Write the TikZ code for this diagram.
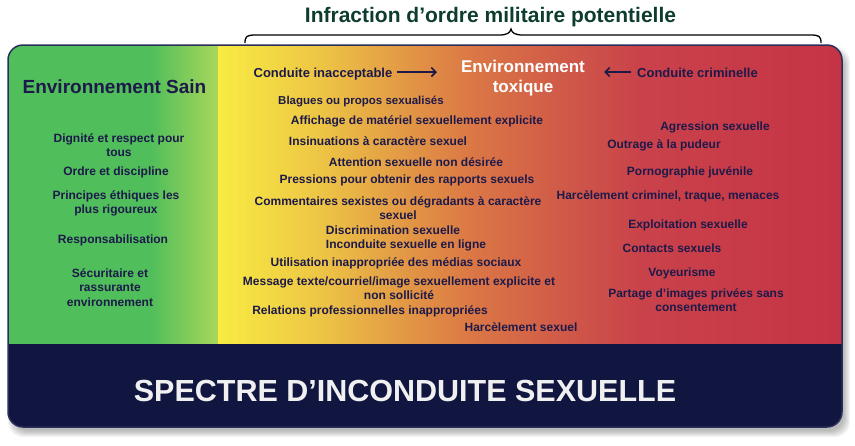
\documentclass[tikz,border=0pt]{standalone}
\usepackage{fontspec}
\setmainfont{Liberation Sans}
\usetikzlibrary{arrows.meta}
\definecolor{gA}{HTML}{4FBE5B}
\definecolor{gB}{HTML}{AAD75A}
\definecolor{yA}{HTML}{F8EB42}
\definecolor{yB}{HTML}{EDC545}
\definecolor{oA}{HTML}{E39A45}
\definecolor{oB}{HTML}{DB7845}
\definecolor{rA}{HTML}{D05A48}
\definecolor{rB}{HTML}{C9424A}
\definecolor{rC}{HTML}{C53345}
\definecolor{navybg}{HTML}{111641}
\definecolor{navytxt}{HTML}{1D1A4A}
\definecolor{borderc}{HTML}{2A2F5A}
\definecolor{titlegreen}{HTML}{0E3D30}
\begin{document}
\begin{tikzpicture}[x=1pt,y=-1pt,
  item/.style={anchor=base,inner sep=0pt,align=center,text=navytxt,
     font=\bfseries\fontsize{12}{14.5}\selectfont},
  smallitem/.style={item,font=\bfseries\fontsize{11.5}{14}\selectfont},
  head/.style={anchor=base,inner sep=0pt,align=center,text=navytxt,
     font=\bfseries\fontsize{13}{16}\selectfont},
  arr/.style={-{Straight Barb[length=4.5pt,width=9pt,line width=1.6pt]},line width=1.6pt,navytxt}]
\useasboundingbox (0,0) rectangle (855,445);
% shadow
\foreach \i in {0,1,2,3,4,5,6}{
  \fill[black,opacity=0.045,rounded corners=15pt]
    (8+6-\i,45+8-\i) rectangle (842+2+\i,427+4+\i);
}
% box
\begin{scope}
\clip[rounded corners=15pt] (8,45) rectangle (842,427);
\fill[gA] (0,40) rectangle (151,345);
\shade[left color=gA,right color=gB] (150,40) rectangle (219,345);
\shade[left color=yA,right color=yB] (218.5,40) rectangle (321,345);
\shade[left color=yB,right color=oA] (320,40) rectangle (401,345);
\shade[left color=oA,right color=oB] (400,40) rectangle (471,345);
\shade[left color=oB,right color=rA] (470,40) rectangle (561,345);
\shade[left color=rA,right color=rB] (560,40) rectangle (641,345);
\shade[left color=rB,right color=rC] (640,40) rectangle (850,345);
\fill[navybg] (0,344) rectangle (850,430);
\end{scope}
\draw[borderc,line width=1.5pt,rounded corners=15pt] (8,45) rectangle (842,427);
% brace
\draw[black,line width=1.3pt] (245,43) .. controls (245,36) and (247,35) .. (256,35)
  -- (499,35) .. controls (507,35) and (510,33) .. (511,29)
  .. controls (512,33) and (515,35) .. (523,35) -- (810,35)
  .. controls (819,35) and (821,36) .. (821,43);
\node[anchor=base,inner sep=0pt,text=titlegreen,font=\bfseries\fontsize{21}{24}\selectfont] (title) at (490.5,22) {Infraction d’ordre militaire potentielle};
% headers
\node[anchor=base,inner sep=0pt,text=navytxt,font=\bfseries\fontsize{19}{22}\selectfont] (sain) at (114.5,93) {Environnement Sain};
\node[head] (inacc) at (323,77) {Conduite inacceptable};
\node[anchor=base,inner sep=0pt,align=center,text=white,font=\bfseries\fontsize{17}{20}\selectfont] (toxic) at (523,92) {Environnement\\toxique};
\node[head] (crim) at (697.5,77) {Conduite criminelle};
\coordinate (a1s) at (397,72);
\coordinate (a1e) at (437,72);
\coordinate (a2s) at (631,72);
\coordinate (a2e) at (604,72);
\draw[arr] (a1s) -- (a1e);
\draw[arr] (a2s) -- (a2e);
% left column
\node[item] (l1) at (119,156.5) {Dignité et respect pour\\tous};
\node[item] (l2) at (116,175) {Ordre et discipline};
\node[item] (l3) at (116,213.5) {Principes éthiques les\\plus rigoureux};
\node[item] (l4) at (113,243) {Responsabilisation};
\node[item] (l5) at (110,306) {Sécuritaire et\\rassurante\\environnement};
% middle column
\node[smallitem] (m1) at (361,104) {Blagues ou propos sexualisés};
\node[item] (m2) at (417,124) {Affichage de matériel sexuellement explicite};
\node[item] (m3) at (378,145) {Insinuations à caractère sexuel};
\node[item] (m4) at (416,166) {Attention sexuelle non désirée};
\node[item] (m5) at (407,183) {Pressions pour obtenir des rapports sexuels};
\node[item,font=\bfseries\fontsize{12}{14}\selectfont] (m6) at (398,219) {Commentaires sexistes ou dégradants à caractère\\sexuel};
\node[item] (m7) at (393,234) {Discrimination sexuelle};
\node[item] (m8) at (406,248) {Inconduite sexuelle en ligne};
\node[item] (m9) at (396,266) {Utilisation inappropriée des médias sociaux};
\node[item,font=\bfseries\fontsize{12}{14}\selectfont] (m10) at (399,299) {Message texte/courriel/image sexuellement explicite et\\non sollicité};
\node[item] (m11) at (370,314) {Relations professionnelles inappropriées};
\node[item] (m12) at (521,331) {Harcèlement sexuel};
% right column
\node[item] (r1) at (715,130) {Agression sexuelle};
\node[item] (r2) at (664,148) {Outrage à la pudeur};
\node[item] (r3) at (690,175) {Pornographie juvénile};
\node[item] (r4) at (668,199) {Harcèlement criminel, traque, menaces};
\node[item] (r5) at (688,228) {Exploitation sexuelle};
\node[item] (r6) at (672,252) {Contacts sexuels};
\node[item] (r7) at (682,276) {Voyeurisme};
\node[item] (r8) at (696,311.5) {Partage d’images privées sans\\consentement};
% bottom title
\node[anchor=base,inner sep=0pt,text=white!94!black,font=\bfseries\fontsize{30.5}{34}\selectfont] (spectre) at (405,401) {SPECTRE D’INCONDUITE SEXUELLE};
\end{tikzpicture}
\end{document}
